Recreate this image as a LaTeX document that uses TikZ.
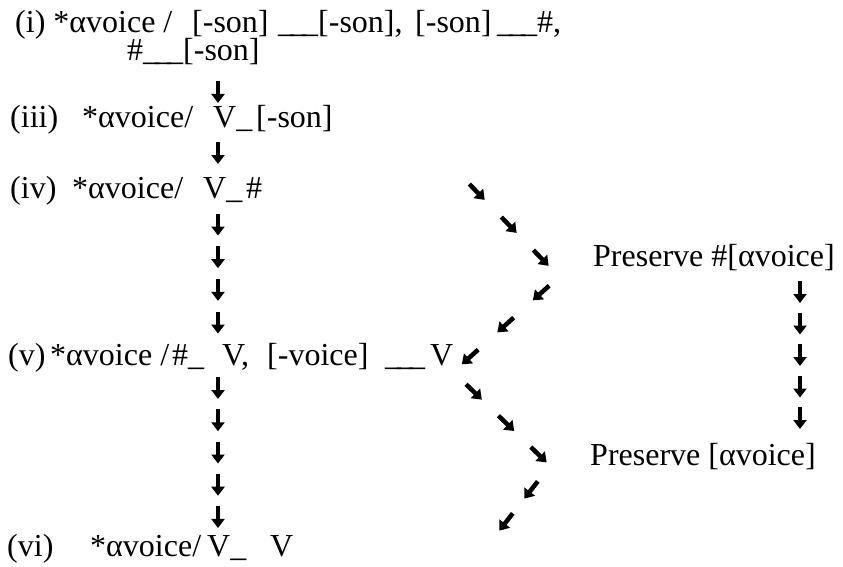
\documentclass[tikz,border=0pt]{standalone}
\usepackage{fontspec}
\setmainfont{Liberation Serif}
\usetikzlibrary{arrows.meta,decorations.markings}
% a long blank made of three overlapping underscores
\newcommand\longblank{\_\kern-4pt\_\kern-4pt\_}
\begin{document}
\begin{tikzpicture}[x=1pt,y=-1pt,
  lbl/.style={anchor=base west, inner sep=0pt, font=\fontsize{32}{38}\selectfont},
  glyph/.style={line width=4.5pt, -{Triangle[width=13pt,length=9pt]}},
  arrowrow/.style 2 args={postaction={decorate},
    decoration={markings, mark=between positions #1 and 0.999 step #2
      with {\draw[glyph] (-11pt,0pt) -- (11pt,0pt);}}}
]
\useasboundingbox (0,0) rectangle (843,567);

% rule (i)
\node[lbl] (i1) at (15,33) {(i) *αvoice /};
\node[lbl] (i2) at (192,33) {[-son]};
\node[lbl] (i3) at (278,33) {\longblank[-son],};
\node[lbl] (i4) at (415,33) {[-son]};
\node[lbl] (i5) at (497,33) {\longblank\#,};
\node[lbl] (i6) at (127,61) {\#\longblank[-son]};

% rule (iii)
\node[lbl] (iii1) at (10,128) {(iii)};
\node[lbl] (iii2) at (82,128) {*αvoice/};
\node[lbl] (iii3) at (213,128) {V\_};
\node[lbl] (iii4) at (256,128) {[-son]};

% rule (iv)
\node[lbl] (iv1) at (10,198) {(iv)};
\node[lbl] (iv2) at (72,198) {*αvoice/};
\node[lbl] (iv3) at (203,198) {V\_};
\node[lbl] (iv4) at (246,198) {\#};

% rule (v)
\node[lbl] (v1) at (8,365) {(v)};
\node[lbl] (v2) at (50,365) {*αvoice /};
\node[lbl] (v3) at (172,365) {\#\_};
\node[lbl] (v4) at (222,365) {V,};
\node[lbl] (v5) at (267,365) {[-voice]};
\node[lbl] (v6) at (385,365) {\longblank};
\node[lbl] (v7) at (430,365) {V};

% rule (vi)
\node[lbl] (vi1) at (7,556) {(vi)};
\node[lbl] (vi2) at (90,556) {*αvoice/};
\node[lbl] (vi3) at (207,556) {V\_};
\node[lbl] (vi4) at (270,556) {V};

% preservation constraints
\node[lbl] (p1) at (593,266) {Preserve \#[αvoice]};
\node[lbl] (p2) at (590,465) {Preserve [αvoice]};

% ends of the arrow rows
\coordinate (l1a) at (218,82);     \coordinate (l1b) at (218,102);
\coordinate (l2a) at (218,143);    \coordinate (l2b) at (218,163);
\coordinate (l3a) at (218,208.2);  \coordinate (l3b) at (218,338.9);
\coordinate (l4a) at (218,371.9);  \coordinate (l4b) at (218,533.1);
\coordinate (ra)  at (800,276.25); \coordinate (rb)  at (800,433.75);
\coordinate (d1a) at (461,175.5);  \coordinate (d1b) at (557,274.5);
\coordinate (d2a) at (558.75,277); \coordinate (d2b) at (452.25,373);
\coordinate (d3a) at (457.75,376.25); \coordinate (d3b) at (555.25,470.75);
\coordinate (d4a) at (543.5,474);  \coordinate (d4b) at (493.5,538);

% rows of small arrows
\path[arrowrow={0.5}{1}] (l1a) -- (l1b);
\path[arrowrow={0.5}{1}] (l2a) -- (l2b);
\path[arrowrow={0.125}{0.25}] (l3a) -- (l3b);
\path[arrowrow={0.1}{0.2}] (l4a) -- (l4b);
\path[arrowrow={0.1}{0.2}] (ra) -- (rb);
\path[arrowrow={0.1667}{0.3333}] (d1a) -- (d1b);
\path[arrowrow={0.1667}{0.3333}] (d2a) -- (d2b);
\path[arrowrow={0.1667}{0.3333}] (d3a) -- (d3b);
\path[arrowrow={0.25}{0.5}] (d4a) -- (d4b);
\end{tikzpicture}
\end{document}
